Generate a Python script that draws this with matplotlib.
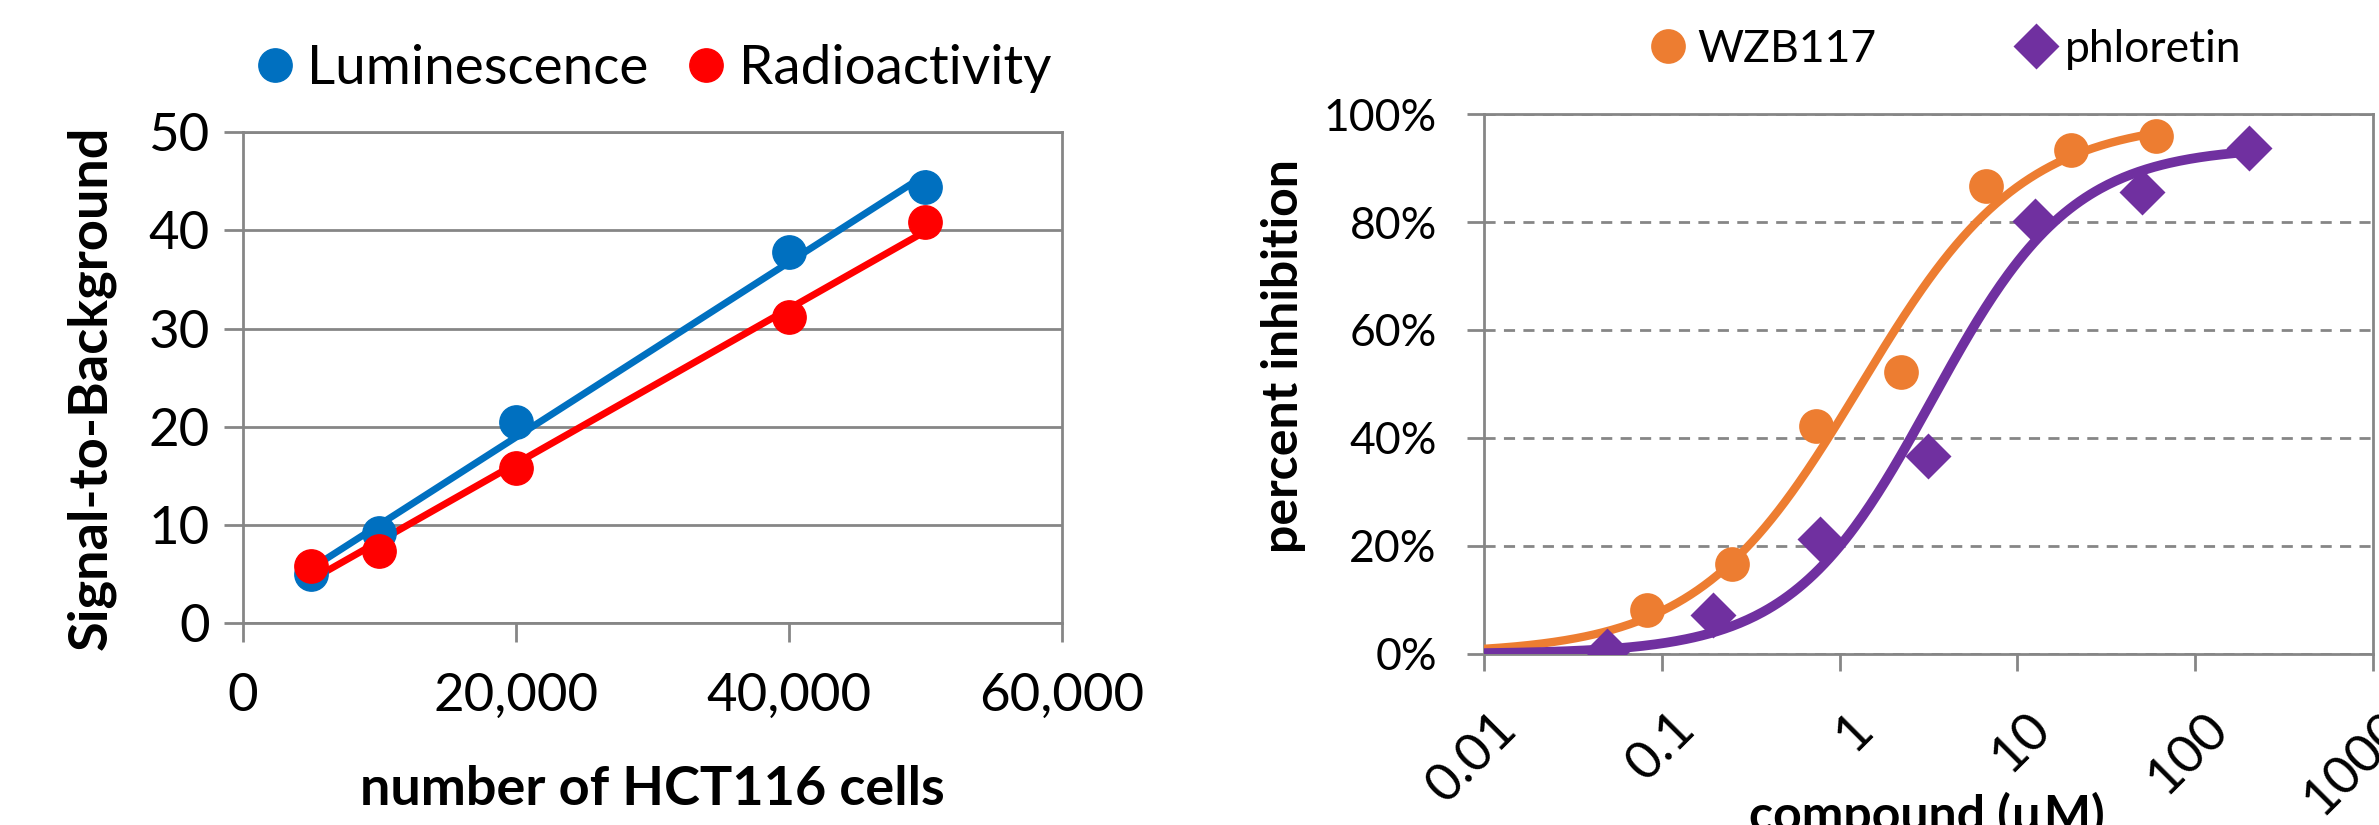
import numpy as np
import matplotlib
matplotlib.use("Agg")
import matplotlib.pyplot as plt
import matplotlib.transforms as mtransforms
from matplotlib.ticker import FuncFormatter, FixedLocator

plt.rcParams['font.family'] = ['Lato', 'DejaVu Sans']

# --- left panel: signal-to-background vs cell number ---
cells = [5000, 10000, 20000, 40000, 50000]
lum = [5.0, 9.2, 20.5, 37.8, 44.4]
radio = [5.8, 7.3, 15.8, 31.2, 40.8]

# --- right panel: dose response ---
wzb_conc = [0.082, 0.247, 0.74, 2.22, 6.67, 20, 60]
wzb_inh = [0.082, 0.167, 0.423, 0.522, 0.867, 0.933, 0.959]
phl_conc = [0.049, 0.195, 0.78, 3.125, 12.5, 50, 200]
phl_inh = [0.005, 0.073, 0.213, 0.367, 0.801, 0.856, 0.937]
# hill fit parameters (top, ic50, slope)
wzb_fit = (0.99, 1.3, 0.95)
phl_fit = (0.94, 3.3, 1.1)

GRAY = '#868686'
BLUE, RED = '#0070C0', '#FF0000'
ORANGE, PURPLE = '#ED7D31', '#7030A0'

fig = plt.figure(figsize=(23.79, 8.25), dpi=100, facecolor='white')

# ===== left =====
ax1 = fig.add_axes([0.1021, 0.2448, 0.3443, 0.595])
for xs, ys, c, lab in [(cells, lum, BLUE, 'Luminescence'), (cells, radio, RED, 'Radioactivity')]:
    k, b = np.polyfit(xs, ys, 1)
    xx = np.array([min(xs), max(xs)])
    ax1.plot(xx, k * xx + b, color=c, lw=5, zorder=3)
    ax1.plot(xs, ys, 'o', color=c, ms=24, zorder=4, label=lab)
ax1.set_xlim(0, 60000)
ax1.set_ylim(0, 50)
ax1.set_xticks([0, 20000, 40000, 60000])
ax1.set_yticks(range(0, 51, 10))
ax1.xaxis.set_major_formatter(FuncFormatter(lambda v, p: f'{int(v):,}'))
ax1.yaxis.grid(True, color=GRAY, lw=2)
ax1.set_axisbelow(True)
for s in ax1.spines.values():
    s.set_color(GRAY); s.set_linewidth(2)
ax1.tick_params(length=14, width=2, color=GRAY, labelsize=38, pad=10)
ax1.tick_params(axis='x', pad=22)
ax1.set_xlabel('number of HCT116 cells', fontsize=39, fontweight='bold')
ax1.xaxis.set_label_coords(0.5, -0.29)
ax1.set_ylabel('Signal-to-Background', fontsize=39, fontweight='bold')
ax1.yaxis.set_label_coords(-0.155, 0.479)
ax1.legend(loc='center', bbox_to_anchor=(0.503, 1.13), ncol=2, frameon=False,
           fontsize=39.5, handlelength=0.6, handletextpad=0.3, columnspacing=0.75)

# ===== right =====
ax2 = fig.add_axes([0.6238, 0.2073, 0.3737, 0.6545])
def hill(x, top, ic50, n):
    return top * x**n / (ic50**n + x**n)

for conc, inh, fit, c, m, ms, lw, lab in [
        (wzb_conc, wzb_inh, wzb_fit, ORANGE, 'o', 25, 6, 'WZB117'),
        (phl_conc, phl_inh, phl_fit, PURPLE, 'D', 23, 7, 'phloretin')]:
    xx = np.logspace(-2, np.log10(max(conc)), 300)
    ax2.plot(xx, hill(xx, *fit), color=c, lw=lw, zorder=3)
    ax2.plot(conc, inh, m, color=c, ms=ms, zorder=4, label=lab, mec='none')
ax2.set_xscale('log')
ax2.set_xlim(0.01, 1000)
ax2.set_ylim(0, 1)
ax2.xaxis.set_major_locator(FixedLocator([0.01, 0.1, 1, 10, 100, 1000]))
ax2.xaxis.set_minor_locator(FixedLocator([]))
ax2.xaxis.set_major_formatter(FuncFormatter(lambda v, p: f'{v:g}'))
ax2.set_yticks(np.arange(0, 1.01, 0.2))
ax2.yaxis.set_major_formatter(FuncFormatter(lambda v, p: f'{v*100:.0f}%'))
ax2.yaxis.grid(True, color=GRAY, lw=2, ls=(0, (4, 3)))
ax2.set_axisbelow(True)
for s in ax2.spines.values():
    s.set_color(GRAY); s.set_linewidth(2)
ax2.tick_params(length=12, width=2, color=GRAY, labelsize=32, pad=22)
ax2.tick_params(axis='x', labelsize=38, pad=24)
shift = mtransforms.ScaledTranslation(6 / 72, 0, fig.dpi_scale_trans)
for t in ax2.get_xticklabels():
    t.set_rotation(45)
    t.set_ha('right')
    t.set_va('top')
    t.set_rotation_mode('anchor')
    t.set_transform(t.get_transform() + shift)
ax2.set_xlabel('compound (\u00b5M)', fontsize=36, fontweight='bold')
ax2.xaxis.set_label_coords(0.498, -0.255)
ax2.set_ylabel('percent inhibition', fontsize=36, fontweight='bold')
ax2.yaxis.set_label_coords(-0.20, 0.552)
ax2.legend(loc='center', bbox_to_anchor=(0.522, 1.12), ncol=2, frameon=False,
           fontsize=32, handlelength=0.6, handletextpad=0.35, columnspacing=3.3)

fig.savefig('out.png', dpi=100, facecolor='white')
